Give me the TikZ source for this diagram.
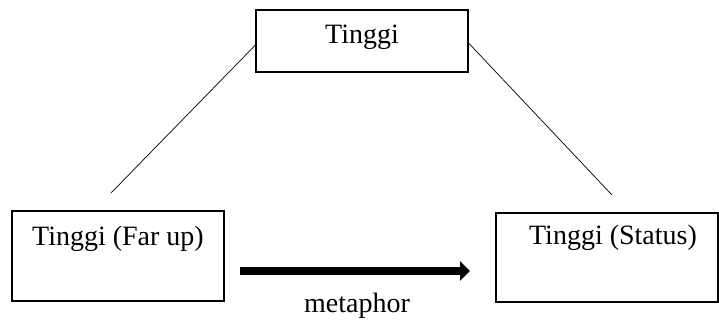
\documentclass[tikz,border=0pt]{standalone}
\usepackage{fontspec}
\setmainfont{Liberation Serif}
\usetikzlibrary{arrows.meta}
\tikzset{>=stealth}

\begin{document}
\begin{tikzpicture}[
     x={(1bp,0bp)},y={(0bp,-1bp)},   % pixel units, y downwards
     font=\fontsize{28bp}{30bp}\selectfont,
     box/.style={draw,line width=1.1bp,inner sep=0pt},
  ]
  \useasboundingbox (0,0) rectangle (719,320);
  % boxes
  \def\bw{212}  % box width
  \node[box,minimum width=\bw bp,minimum height=62bp] (top) at (362,41) {};
  \node[box,minimum width=\bw bp,minimum height=90bp] (left) at (118,256) {};
  \node[box,minimum width=222bp,minimum height=89bp] (right) at (607,257.5) {};
  \node (toptext) at (362,37) {Tinggi};
  \node (lefttext) at (118,239) {Tinggi (Far up)};
  \node (righttext) at (613,238) {Tinggi (Status)};
  % lines down from the top box
  \coordinate (lend) at (111,193);
  \coordinate (rend) at (612,195);
  \draw[line width=0.7bp] ([yshift=-4bp]top.west) -- (lend);
  \draw[line width=0.7bp] ([yshift=-2bp]top.east) -- (rend);
  % the metaphor arrow
  \coordinate (astart) at (240,271);
  \coordinate (aend) at (470,271);
  \draw[line width=7.5bp,-{Triangle[length=10bp,width=19bp]}] (astart) -- (aend);
  \node (meta) at (357,306) {metaphor};
\end{tikzpicture}
\end{document}
